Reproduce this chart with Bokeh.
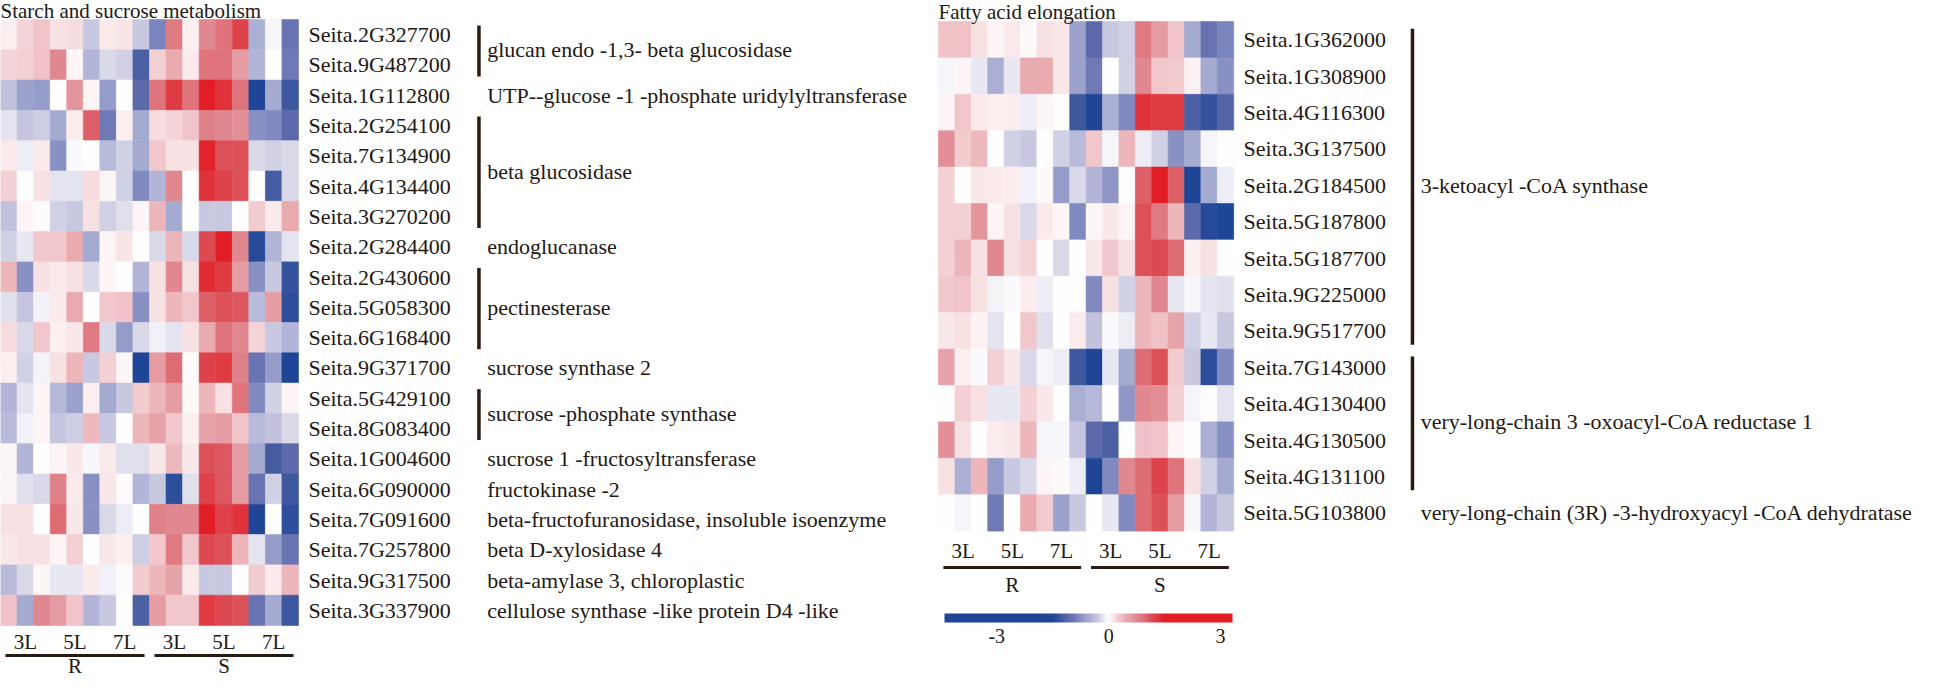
import numpy as np
from bokeh.plotting import figure
from bokeh.models import Range1d, ColumnDataSource, LinearColorMapper
from bokeh.transform import transform
from bokeh.core.properties import value
from bokeh.embed import file_html
from bokeh.resources import INLINE

# ---------------- data ----------------
genotypes = ["R", "S"]
stages = ["3L", "5L", "7L"]
replicates = 3
colorbar_ticks = [-3, 0, 3]

starch_title = "Starch and sucrose metabolism"
starch_genes = ["Seita.2G327700", "Seita.9G487200", "Seita.1G112800", "Seita.2G254100",
                "Seita.7G134900", "Seita.4G134400", "Seita.3G270200", "Seita.2G284400",
                "Seita.2G430600", "Seita.5G058300", "Seita.6G168400", "Seita.9G371700",
                "Seita.5G429100", "Seita.8G083400", "Seita.1G004600", "Seita.6G090000",
                "Seita.7G091600", "Seita.7G257800", "Seita.9G317500", "Seita.3G337900"]
starch_values = [
    [0.15, 0.4, 0.6, 0.3, 0.35, -0.6, 0.2, 0.25, -0.6, -1.7, 1.7, 0.15, 1.5, 1.8, 2.5, -1.0, -0.1, -2.0],
    [0.4, 0.45, 0.65, 1.5, 0.08, -0.9, -0.4, -0.5, -2.4, 0.45, 1.0, 0.2, 1.8, 1.8, 1.2, -0.9, 0.0, -1.9],
    [-0.7, -1.2, -1.3, 0.0, 1.3, 0.1, -1.3, 0.0, -2.2, 1.8, 2.6, 1.8, 3.0, 2.7, 1.8, -3.0, -1.1, -2.6],
    [-0.3, -0.65, -0.55, -1.1, 0.18, 2.1, -1.9, 0.15, -1.1, 0.35, 0.4, 0.6, 1.6, 1.5, 1.4, -1.5, -1.6, -2.2],
    [0.2, -0.2, 0.2, -1.5, -0.05, 0.0, -0.8, -0.5, -1.1, 0.55, 0.3, 0.3, 2.9, 2.3, 2.3, -0.4, -0.5, -0.4],
    [0.45, 0.0, 0.3, -0.3, -0.3, 0.35, 0.08, -0.5, -1.6, -0.9, 1.5, 0.0, 2.7, 2.5, 2.3, 0.0, -2.5, -0.4],
    [-0.7, 0.1, 0.03, -0.5, -0.6, 0.3, -0.5, -0.35, 0.1, 0.8, -1.1, 0.0, -0.6, -0.6, 0.0, 0.5, 0.2, 1.0],
    [-0.5, -0.25, 0.55, 0.55, 1.0, -1.1, 0.1, 0.25, 0.0, -0.4, 0.8, -0.4, 2.4, 3.0, 1.5, -2.9, -0.9, -0.3],
    [0.8, -1.5, 0.3, 0.2, 0.3, -0.4, 0.08, 0.0, -0.9, 0.3, 1.5, 0.3, 2.8, 2.6, 1.2, -1.5, -0.6, -2.7],
    [-0.35, -0.65, -0.15, 0.2, 1.0, 0.0, 0.55, 0.65, -1.5, 0.3, 0.8, 0.55, 2.1, 2.3, 2.2, -0.8, 1.2, -2.8],
    [0.35, -0.4, 0.55, 0.15, 0.22, 1.7, -0.4, -1.3, -0.4, -0.15, -0.3, 0.3, 1.0, 1.8, 1.5, 0.4, -0.6, -0.9],
    [0.15, -0.5, -0.12, 0.3, 0.8, -0.6, 0.45, 0.08, -3.0, 1.2, 1.9, 0.03, 2.5, 2.6, 1.6, -2.0, -1.3, -3.0],
    [-0.9, -0.3, 0.1, -0.85, -1.2, 0.15, -1.1, -0.6, 0.5, 0.8, 1.2, 0.05, 0.8, 0.3, 1.8, -1.6, -0.5, 0.1],
    [-0.8, -0.15, 0.1, -0.65, -0.55, 0.75, -0.6, 0.0, 0.8, 1.1, 0.55, 0.15, 1.1, 1.2, 0.6, -0.8, -0.7, -0.4],
    [0.1, -0.9, 0.0, 0.1, 0.22, -0.08, 0.2, -0.35, -0.35, 0.22, 0.75, 0.22, 2.3, 2.2, 1.2, -1.1, -2.5, -2.2],
    [0.1, -0.35, -0.4, 1.6, 0.2, -1.5, 0.22, 0.03, -0.9, -0.6, -2.8, -0.35, 2.5, 2.2, 1.2, -2.0, -0.5, -2.6],
    [0.3, 0.3, 0.0, 1.9, 0.22, -1.5, -0.4, -0.2, 0.0, 1.6, 1.5, 1.5, 3.0, 2.5, 2.7, -3.0, 0.0, -2.8],
    [0.22, 0.3, 0.3, 0.1, 0.45, 0.0, 0.22, 0.15, -0.55, 0.55, 1.7, 0.55, 2.4, 2.3, 0.8, -0.3, -1.3, -2.0],
    [-0.8, -0.4, 0.08, -0.25, -0.25, 0.2, -0.15, 0.03, 0.5, 0.8, 1.1, 0.2, -0.6, -0.6, 0.0, 0.5, 0.2, 0.8],
    [0.65, -1.1, 1.5, 1.2, 0.6, -0.9, -0.6, 0.0, -2.4, 1.2, 0.55, 0.55, 2.6, 2.4, 2.3, -2.0, -1.1, -2.6],
]
# (annotation text, first row, last row, bracket)
starch_annotations = [
    ("glucan endo -1,3- beta  glucosidase", 0, 1, True),
    ("UTP--glucose -1 -phosphate uridylyltransferase", 2, 2, False),
    ("beta glucosidase", 3, 6, True),
    ("endoglucanase", 7, 7, False),
    ("pectinesterase", 8, 10, True),
    ("sucrose synthase 2", 11, 11, False),
    ("sucrose -phosphate synthase", 12, 13, True),
    ("sucrose 1 -fructosyltransferase", 14, 14, False),
    ("fructokinase -2", 15, 15, False),
    ("beta-fructofuranosidase, insoluble isoenzyme", 16, 16, False),
    ("beta D-xylosidase 4", 17, 17, False),
    ("beta-amylase 3, chloroplastic", 18, 18, False),
    ("cellulose synthase  -like protein D4 -like", 19, 19, False),
]

fatty_title = "Fatty acid elongation"
fatty_genes = ["Seita.1G362000", "Seita.1G308900", "Seita.4G116300", "Seita.3G137500",
               "Seita.2G184500", "Seita.5G187800", "Seita.5G187700", "Seita.9G225000",
               "Seita.9G517700", "Seita.7G143000", "Seita.4G130400", "Seita.4G130500",
               "Seita.4G131100", "Seita.5G103800"]
fatty_values = [
    [0.65, 0.65, 0.3, 0.1, 0.2, 0.05, 0.3, 0.22, -1.2, -2.2, -0.6, -0.5, 1.7, 1.2, 0.6, -1.1, -2.0, -1.7],
    [-0.1, 0.08, -0.25, -1.0, -0.25, 1.0, 1.0, 0.22, -1.2, -1.9, 0.0, -0.5, 1.5, 0.55, 0.5, 0.12, -1.1, -1.5],
    [0.1, 0.55, 0.2, 0.15, 0.17, -0.2, 0.08, 0.0, -2.6, -3.0, -1.0, -1.6, 2.7, 2.6, 2.6, -2.4, -2.7, -2.3],
    [1.4, 0.5, 0.75, 0.0, -0.5, -0.6, 0.0, -0.5, -0.8, 0.55, -0.1, 0.8, -0.2, -0.5, -1.5, -1.1, -0.1, 0.0],
    [0.45, 0.0, 0.22, 0.2, 0.18, -0.15, 0.05, -1.3, -0.4, -0.9, -1.4, 0.0, 2.1, 3.0, 2.1, -3.0, -1.1, -0.2],
    [0.45, 0.45, 1.3, 0.1, 0.3, -0.4, 0.2, 0.1, -1.6, 0.08, 0.22, 0.1, 2.3, 1.7, 0.8, -2.2, -2.9, -3.0],
    [0.45, 0.8, 0.3, 1.5, 0.3, 0.4, 0.0, -0.4, 0.0, 0.22, 0.55, 0.3, 2.3, 2.4, 1.9, 0.15, 0.3, 0.0],
    [0.55, 0.6, 0.3, -0.12, -0.05, 0.18, -0.2, 0.0, 0.02, -1.6, 0.3, -0.5, 0.8, 1.5, -0.25, -0.1, -0.3, -0.35],
    [0.22, 0.3, 0.12, -0.3, 0.0, 0.55, -0.35, 0.0, 0.18, -0.7, -0.05, -0.2, 0.8, 0.65, 1.1, -0.5, -0.25, -0.6],
    [1.1, 0.15, -0.05, 0.45, 0.22, -0.4, -0.1, -0.2, -2.6, -3.0, -0.25, -1.1, 1.9, 2.3, 0.5, -0.6, -2.8, -1.6],
    [0.0, 0.45, 0.3, -0.25, -0.25, 0.45, 0.22, 0.0, -1.0, -0.85, 0.0, -1.4, 1.5, 1.4, 0.45, -0.1, 0.0, -0.3],
    [1.4, 0.3, 0.0, 0.18, 0.22, 0.8, -0.1, -0.1, -0.65, -2.2, -2.4, 0.0, 0.65, 0.6, 0.1, 0.0, -1.0, -1.5],
    [0.3, -1.0, 0.8, -1.3, -0.6, -0.4, 0.1, 0.05, -0.2, -3.0, -1.6, 1.5, 1.9, 2.5, 1.8, 0.3, -0.5, -1.1],
    [0.0, -0.1, 0.0, -1.9, 0.0, 1.0, 0.5, -1.2, -0.6, 0.0, -0.25, -1.6, 1.9, 2.3, 1.2, -0.08, -0.9, -0.6],
]
fatty_annotations = [
    ("3-ketoacyl -CoA synthase", 0, 8, True),
    ("very-long-chain 3 -oxoacyl-CoA reductase 1", 9, 12, True),
    ("very-long-chain (3R) -3-hydroxyacyl   -CoA dehydratase", 13, 13, False),
]

# ---------------- style ----------------
W, H = 1928, 679
FONT = value("Liberation Serif")
INK = "#231815"
BRACKET = "#2b1a12"

blue_stops = [(0.0, (255, 255, 255)), (0.2, (200, 200, 224)), (0.5, (136, 144, 196)),
              (0.75, (88, 102, 168)), (1.0, (30, 70, 150))]
red_stops = [(0.0, (255, 255, 255)), (0.17, (242, 202, 206)), (0.5, (224, 136, 144)),
             (0.77, (220, 80, 88)), (1.0, (226, 28, 36))]


def stop_color(stops, t):
    t = min(max(t, 0.0), 1.0)
    for (t0, c0), (t1, c1) in zip(stops[:-1], stops[1:]):
        if t <= t1:
            f = (t - t0) / (t1 - t0)
            return "#%02x%02x%02x" % tuple(int(round(a + (b - a) * f)) for a, b in zip(c0, c1))
    return "#%02x%02x%02x" % stops[-1][1]


N = 256
palette = []
for k in range(N):
    v = -1.0 + 2.0 * (k + 0.5) / N
    palette.append(stop_color(red_stops if v > 0 else blue_stops, abs(v)))

cell_mapper = LinearColorMapper(palette=palette, low=-3, high=3)
bar_mapper = LinearColorMapper(palette=palette, low=-1.5, high=1.5)

# ---------------- figure ----------------
L = dict(x0=0.0, cw=298 / 18, y0=19.0, rh=30.3)
Rg = dict(x0=938.0, cw=16.4, y0=21.0, rh=36.4)
bar_px = (944.0, 1232.0)
bar_u = (-4.4, 3.32)
bar_scale = (bar_px[1] - bar_px[0]) / (bar_u[1] - bar_u[0])
bar_start = bar_u[0] - bar_px[0] / bar_scale

extra_x = {}
extra_y = {}
for tag, g in (("L", L), ("R", Rg)):
    extra_x[tag] = Range1d(start=-g["x0"] / g["cw"], end=(W - g["x0"]) / g["cw"])
    extra_y[tag] = Range1d(start=(H - g["y0"]) / g["rh"], end=-g["y0"] / g["rh"])
extra_x["cb"] = Range1d(start=bar_start, end=bar_start + W / bar_scale)

p = figure(width=W, height=H, x_range=Range1d(0, W), y_range=Range1d(H, 0),
           x_axis_location=None, y_axis_location=None,
           output_backend="svg", toolbar_location=None, min_border=0)
p.extra_x_ranges = extra_x
p.extra_y_ranges = extra_y
p.grid.visible = False
p.outline_line_color = None
p.background_fill_color = "white"


def text(x, y, labels, size="22px", align="left", xr="default", yr="default", **kw):
    p.text(x=x, y=y, text=labels, text_font=FONT, text_font_size=size,
           text_align=align, text_baseline="middle", text_color=INK,
           x_range_name=xr, y_range_name=yr, **kw)


def panel(tag, title, title_y, genes, values, annotations, xlab_y, line_y, grp_y):
    xs, ys, vs = [], [], []
    for i, row in enumerate(values):
        for j, v in enumerate(row):
            xs.append(j + 0.5)
            ys.append(i + 0.5)
            vs.append(v)
    src = ColumnDataSource(dict(x=xs, y=ys, v=vs))
    p.rect(x="x", y="y", width=1, height=1, source=src,
           fill_color=transform("v", cell_mapper), line_color=transform("v", cell_mapper),
           line_width=0.6, x_range_name=tag, y_range_name=tag)
    ncol = len(values[0])
    text([0], [title_y], [title], size="21px", xr=tag)
    text([ncol + 0.6] * len(genes), [i + 0.5 for i in range(len(genes))], genes,
         xr=tag, yr=tag)
    bx = ncol + 10.9
    tx = ncol + 11.4
    b0, b1 = [], []
    for lab, a, b, br in annotations:
        text([tx], [(a + b + 1) / 2.0], [lab], xr=tag, yr=tag)
        if br:
            b0.append(a + 0.2)
            b1.append(b + 0.88)
    if b0:
        p.segment(x0=[bx] * len(b0), y0=b0, x1=[bx] * len(b0), y1=b1,
                  line_color=BRACKET, line_width=3.5, x_range_name=tag, y_range_name=tag)
    per_geno = len(stages) * replicates
    sx, sl = [], []
    for gi, gname in enumerate(genotypes):
        for si, st in enumerate(stages):
            sx.append(gi * per_geno + si * replicates + replicates / 2.0)
            sl.append(st)
    text(sx, [xlab_y] * len(sx), sl, size="21px", align="center", xr=tag)
    gx0 = [gi * per_geno + 0.3 for gi in range(len(genotypes))]
    gx1 = [gi * per_geno + per_geno - 0.3 for gi in range(len(genotypes))]
    p.segment(x0=gx0, y0=[line_y] * 2, x1=gx1, y1=[line_y] * 2,
              line_color=BRACKET, line_width=3, x_range_name=tag)
    text([gi * per_geno + per_geno / 2.0 for gi in range(len(genotypes))],
         [grp_y] * len(genotypes), genotypes, size="21px", align="center", xr=tag)


panel("L", starch_title, 10, starch_genes, starch_values, starch_annotations, 641, 655, 665)
panel("R", fatty_title, 11, fatty_genes, fatty_values, fatty_annotations, 550, 567, 584)

# colour key
bar_vals = np.linspace(bar_u[0], bar_u[1], 300).reshape(1, -1)
p.image(image=[bar_vals], x=bar_u[0], y=613, dw=bar_u[1] - bar_u[0], dh=9,
        color_mapper=bar_mapper, x_range_name="cb")
text(colorbar_ticks, [635] * len(colorbar_ticks), [str(t) for t in colorbar_ticks],
     size="20px", align="center", xr="cb")

open("out.html", "w").write(file_html(p, INLINE))
